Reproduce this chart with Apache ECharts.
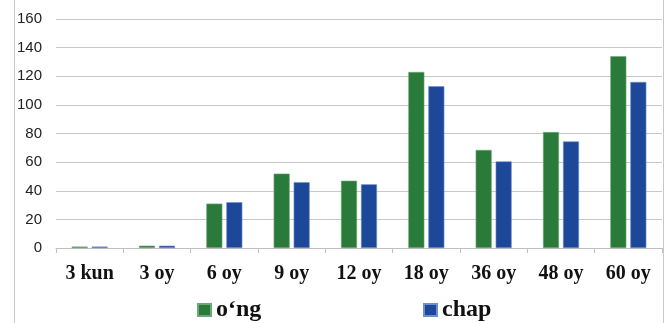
<!DOCTYPE html>
<html>
<head>
<meta charset="utf-8">
<script src="https://cdn.jsdelivr.net/npm/echarts@6/dist/echarts.min.js"></script>
<style>
  html, body { margin: 0; padding: 0; background: #ffffff; }
  #chart { width: 671px; height: 323px; }
</style>
</head>
<body>
<div id="chart"></div>
<script>
// Age groups along the x-axis
const categories = ['3 kun', '3 oy', '6 oy', '9 oy', '12 oy', '18 oy', '36 oy', '48 oy', '60 oy'];
// Right side ("o‘ng") and left side ("chap") measurements
const ongValues  = [1.0, 1.6, 31, 52, 47, 123, 68.5, 81, 134];
const chapValues = [1.0, 1.6, 32, 46, 44.5, 113, 60.5, 74.5, 116];
const seriesNames = ['o‘ng', 'chap'];
const yTicks = { min: 0, max: 160, interval: 20 };

const GREEN = '#2a7a3a';
const BLUE = '#1d4899';

const chart = echarts.init(document.getElementById('chart'), null, { renderer: 'canvas' });

const legendText = {
  fontFamily: '"Liberation Serif", "DejaVu Serif", serif',
  fontWeight: 'bold',
  fontSize: 24,
  color: '#111111'
};

chart.setOption({
  animation: false,
  backgroundColor: '#ffffff',
  grid: { left: 56, right: 9, top: 19, bottom: 75, containLabel: false },
  legend: [
    {
      data: [seriesNames[0]], left: 192, top: 293,
      itemWidth: 13, itemHeight: 12, itemGap: 0,
      icon: 'rect', textStyle: legendText
    },
    {
      data: [seriesNames[1]], left: 418, top: 293,
      itemWidth: 13, itemHeight: 12, itemGap: 0,
      icon: 'rect', textStyle: legendText
    }
  ],
  xAxis: {
    type: 'category',
    data: categories,
    axisLine: { show: true, lineStyle: { color: '#bfbfbf', width: 1 } },
    axisTick: { show: true, length: 5, lineStyle: { color: '#bfbfbf' } },
    axisLabel: {
      margin: 16,
      fontFamily: '"Liberation Serif", "DejaVu Serif", serif',
      fontWeight: 'bold',
      fontSize: 20,
      color: '#111111'
    }
  },
  yAxis: {
    type: 'value',
    min: yTicks.min,
    max: yTicks.max,
    interval: yTicks.interval,
    axisLine: { show: false },
    axisTick: { show: false },
    splitLine: { lineStyle: { color: '#c8c8c8', width: 1 } },
    axisLabel: {
      margin: 14,
      fontFamily: '"Liberation Sans", Arial, sans-serif',
      fontSize: 15,
      color: '#222222'
    }
  },
  graphic: [
    { type: 'line', shape: { x1: 14.5, y1: 0, x2: 14.5, y2: 323 }, style: { stroke: '#c8c8c8', lineWidth: 1 } },
    { type: 'line', shape: { x1: 663.5, y1: 0, x2: 663.5, y2: 323 }, style: { stroke: '#c8c8c8', lineWidth: 1 } }
  ],
  series: [
    {
      name: seriesNames[0], type: 'bar', data: ongValues,
      barWidth: 16, barGap: '25%',
      itemStyle: { color: GREEN, borderColor: '#6fa877', borderWidth: 0.6 }
    },
    {
      name: seriesNames[1], type: 'bar', data: chapValues,
      barWidth: 16, barGap: '25%',
      itemStyle: { color: BLUE, borderColor: '#6c8fd0', borderWidth: 0.6 }
    }
  ]
});
</script>
</body>
</html>
